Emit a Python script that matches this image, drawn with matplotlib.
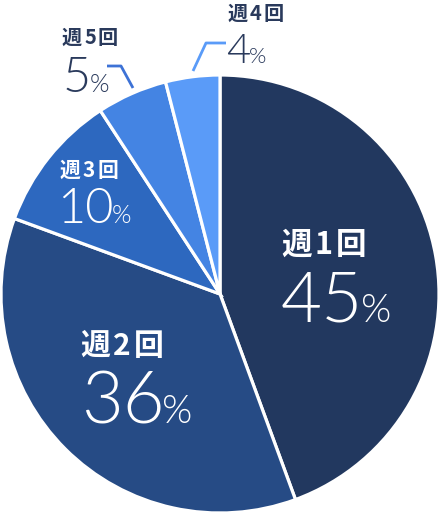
import matplotlib
matplotlib.use("Agg")
import matplotlib.pyplot as plt
from matplotlib import font_manager as fm

# data (slice shares, labels as printed)
labels = ["週1回", "週2回", "週3回", "週5回", "週4回"]
shares = [44.4, 36.2, 10.2, 5.2, 4.0]
percent_labels = ["45", "36", "10", "5", "4"]
colors = ["#22385f", "#264b85", "#2d68bf", "#4484e3", "#5a9bf8"]

W, H = 442, 515
JP = ["Noto Sans CJK JP", "DejaVu Sans"]
LABEL_DARK = "#2a3a5c"

# thin digits: pick Lato Light by file name, else Noto CJK light
light_files = [f.fname for f in fm.fontManager.ttflist
               if f.fname.endswith("Lato-Light.ttf")]
if light_files:
    NUM_FONT = dict(fontproperties=fm.FontProperties(fname=light_files[0]))
else:
    NUM_FONT = dict(family=JP, fontweight=300)


def py(y):
    # pixel row (from top) -> data y
    return H - y


fig = plt.figure(figsize=(W / 100, H / 100), dpi=100)
ax = fig.add_axes([0, 0, 1, 1])
ax.pie(shares, colors=colors, startangle=90, counterclock=False,
       center=(220, py(294)), radius=219,
       wedgeprops=dict(edgecolor="white", linewidth=2.3))
ax.set_xlim(0, W)
ax.set_ylim(0, H)
ax.set_aspect("equal")
ax.axis("off")
renderer = fig.canvas.get_renderer()


def spaced_text(x, y, s, size, color, gap):
    # draw char by char with extra tracking
    for ch in s:
        t = ax.text(x, py(y), ch, family=JP, fontweight="bold", fontsize=size,
                    color=color, ha="left", va="baseline")
        x += t.get_window_extent(renderer).width + gap


def num_text(x, y, s, size, color):
    t = ax.text(x, py(y), s, color=color, ha="left", va="baseline", **NUM_FONT)
    t.set_fontsize(size)
    return t


def put_label(name, value, lx, ly, lsize, gap, nx, ny, nsize, psize, color):
    spaced_text(lx, ly, name, lsize, color, gap)
    t = num_text(nx, ny, value, nsize, color)
    bb = t.get_window_extent(renderer)
    num_text(bb.x1 - nsize * 0.05, ny, "%", psize, color)


# inner labels
put_label(labels[0], percent_labels[0], 281, 254, 22, 3, 281, 322, 51, 28, "white")
put_label(labels[1], percent_labels[1], 80, 355, 21.5, 3, 81, 423, 52, 28, "white")
put_label(labels[2], percent_labels[2], 60, 177, 15, 2, 57, 223, 35, 18, "white")

# outer labels with leader lines
put_label(labels[3], percent_labels[3], 62, 44, 14.5, 2, 63, 92, 35, 18, LABEL_DARK)
put_label(labels[4], percent_labels[4], 228, 20, 14.5, 2, 226, 63, 30, 16, LABEL_DARK)

ax.plot([133, 121, 107], [py(88), py(66), py(66)], color="#3d72d6", lw=2,
        solid_capstyle="butt")
ax.plot([193, 206, 226], [py(71), py(43), py(43)], color=colors[4], lw=2,
        solid_capstyle="butt")

fig.savefig("out.png", dpi=100)
